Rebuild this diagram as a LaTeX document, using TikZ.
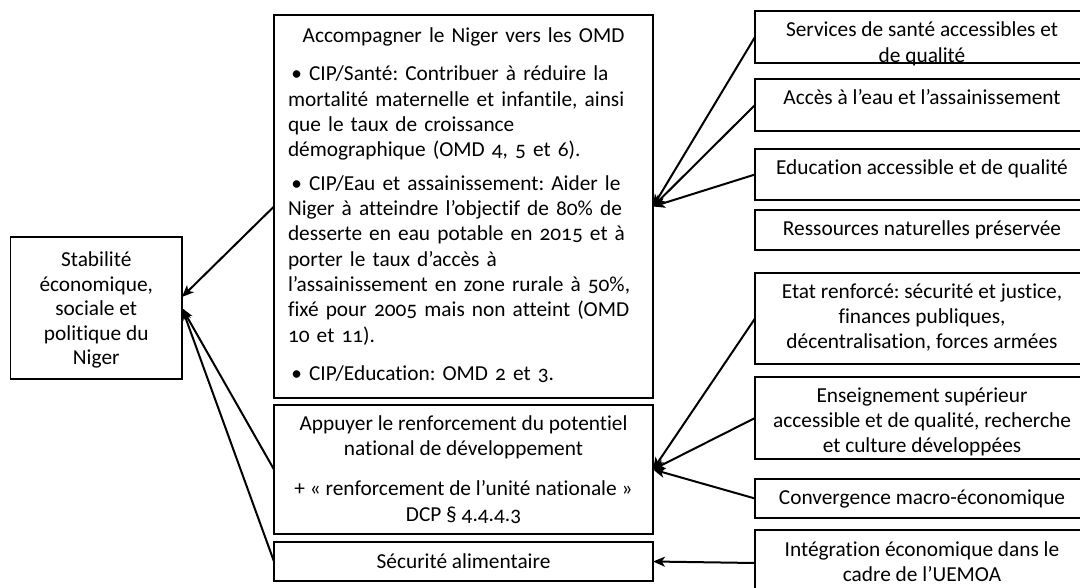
\documentclass[tikz,border=0pt]{standalone}
\usepackage{fontspec}
\setmainfont{Carlito}[Numbers=OldStyle,Ligatures=NoCommon]
\frenchspacing
\usetikzlibrary{arrows.meta,calc}

\begin{document}
\begin{tikzpicture}[x=0.75pt,y=-0.75pt,
  font=\fontsize{16pt}{19pt}\selectfont,
  box/.style={draw=black, line width=0.8pt, rectangle, inner sep=0pt, outer sep=0pt},
  midbox/.style={box, minimum width=284.25pt},
  rbox/.style={box, minimum width=250.5pt},
  txt/.style={inner sep=0pt, align=center, anchor=north},
  link/.style={line width=1.5pt, -{Stealth[length=9pt,width=7.5pt,inset=2.5pt]}}
]
\useasboundingbox (0,0) rectangle (1080,588);
\fill[white] (0,0) rectangle (1080,588);
\clip (0,0) rectangle (1080,588);

% goal on the left
\node[box, minimum width=128.6pt, minimum height=106.5pt] (l) at (96.25,308) {};
\node[inner sep=0pt, align=center, font=\fontsize{16pt}{18.4pt}\selectfont] (lt) at ($(l.center)+(0,2)$)
  {Stabilité\\économique,\\sociale et\\politique du\\Niger};

% middle column
\node[midbox, minimum height=287.25pt] (m1) at (463.5,206.5) {};
\node[inner sep=0pt, anchor=north, text width=263.25pt, align=left] (m1t) at ($(m1.north)+(0,9.3)$) {%
  {\centering\strut Accompagner le Niger vers les OMD\par}
  \vspace{10pt}
  \hspace*{2.5pt}• CIP/Santé: Contribuer à réduire la\\
  mortalité maternelle et infantile, ainsi\\
  que le taux de croissance\\
  démographique (OMD 4, 5 et 6).\par
  \vspace{6pt}
  \hspace*{2.5pt}• CIP/Eau et assainissement: Aider le\\
  Niger à atteindre l’objectif de 80\% de\\
  desserte en eau potable en 2015 et à\\
  porter le taux d’accès à\\
  l’assainissement en zone rurale à 50\%,\\
  fixé pour 2005 mais non atteint (OMD\\
  10 et 11).\par
  \vspace{10pt}
  \hspace*{2.5pt}• CIP/Education: OMD 2 et 3.\par};

\node[midbox, minimum height=96.75pt, align=center] (m2) at (463.5,469.5)
  {Appuyer le renforcement du potentiel\\national de développement\\[11pt]+ « renforcement de l’unité nationale »\\DCP § 4.4.4.3};
\node[midbox, minimum height=29.25pt] (m3) at (463.5,561.5) {Sécurité alimentaire};

% right column
\node[rbox, minimum height=39pt]    (r1) at (922,37)    {};
\node[rbox, minimum height=39pt]    (r2) at (922,105)   {};
\node[rbox, minimum height=38.25pt] (r3) at (922,174.5) {};
\node[rbox, minimum height=30pt]    (r4) at (922,230)   {};
\node[rbox, minimum height=68.25pt] (r5) at (922,318.5) {};
\node[rbox, minimum height=61.5pt]  (r6) at (922,418)   {};
\node[rbox, minimum height=29.25pt] (r7) at (922,498.5) {};
\node[rbox, minimum height=49.5pt]  (r8) at (922,563)   {};

\node[txt] (r1t) at ($(r1.north)+(0,8)$) {\strut Services de santé accessibles et\\de qualité};
\node[txt] (r2t) at ($(r2.north)+(0,8)$) {\strut Accès à l’eau et l’assainissement};
\node[txt] (r3t) at ($(r3.north)+(0,8)$) {\strut Education accessible et de qualité};
\node[txt] (r4t) at ($(r4.north)+(0,7)$) {\strut Ressources naturelles préservée};
\node[txt] (r5t) at ($(r5.north)+(0,7)$) {\strut Etat renforcé: sécurité et justice,\\finances publiques,\\décentralisation, forces armées};
\node[txt] (r6t) at ($(r6.north)+(0,7)$) {\strut Enseignement supérieur\\accessible et de qualité, recherche\\et culture développées};
\node[txt] (r7t) at ($(r7.north)+(0,7)$) {\strut Convergence macro-économique};
\node[txt] (r8t) at ($(r8.north)+(0,8)$) {\strut Intégration économique dans le\\cadre de l’UEMOA};

% connectors
\draw[link] (r1.west) -- (m1.east);
\draw[link] (r2.west) -- (m1.east);
\draw[link] (r3.west) -- (m1.east);
\draw[link] (r5.west) -- (m2.east);
\draw[link] (r6.west) -- (m2.east);
\draw[link] (r7.west) -- (m2.east);
\draw[link] (r8.west) -- (m3.east);
\draw[link] (m1.west) -- ($(l.east)+(0,-11)$);
\draw[link] (m2.west) -- (l.east);
\draw[link] (m3.west) -- (l.east);
\end{tikzpicture}
\end{document}
